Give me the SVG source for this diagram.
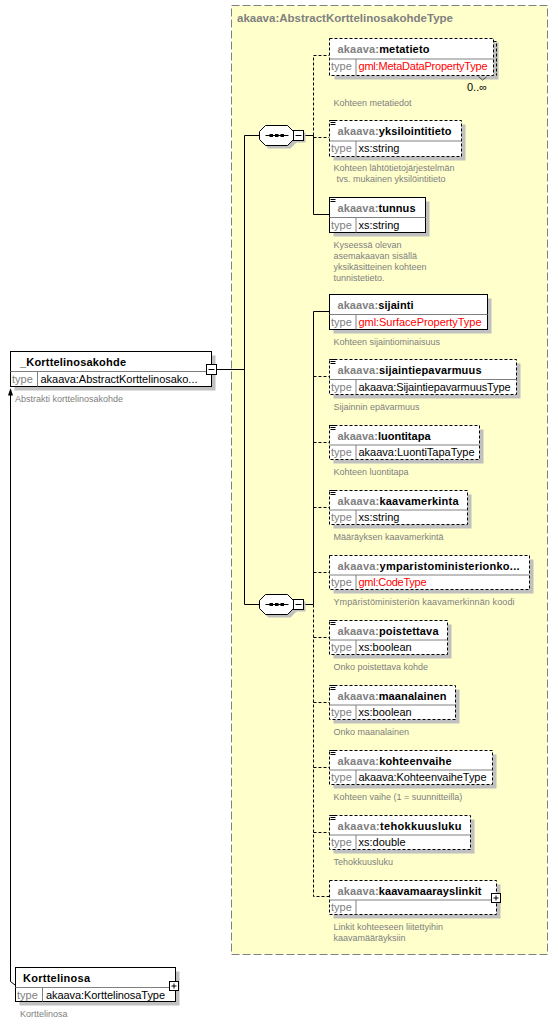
<svg xmlns="http://www.w3.org/2000/svg" width="558" height="1025" viewBox="0 0 558 1025">
<style>
.grp{fill:#FFFFCC;stroke:#808080;stroke-dasharray:8 3}
.ttl{font:bold 11.5px "Liberation Sans",Arial,sans-serif;fill:#808080}
.sh{fill:#C0C0C0}
.bx{fill:#fff;stroke:#000}
.dsh{stroke-dasharray:3 2}
.dv{stroke:#808080}
.nm{font:bold 11px "Liberation Sans",Arial,sans-serif;fill:#000}
.ns{fill:#808080}
.tl{font:11px "Liberation Sans",Arial,sans-serif;fill:#808080}
.ty{font:11px "Liberation Sans",Arial,sans-serif;fill:#000}
.red{fill:#FF0000}
.ds{font:9px "Liberation Sans",Arial,sans-serif;fill:#808080}
.ln{stroke:#000;fill:none}
.dl{stroke-dasharray:3 2}
.ic{stroke:#000;fill:none}
</style>
<defs>
<g id="minus"><rect x="0" y="0" width="10" height="10" fill="#fff" stroke="#000"/><path d="M2 5h6" stroke="#000"/></g>
<g id="plus"><rect x="0" y="0" width="9" height="9" fill="#fff" stroke="#000"/><path d="M2 4.5h5M4.5 2v5" stroke="#000"/></g>
<path id="icon" d="M0 0h6M1 2h5M1 4h5" class="ic"/>
<g id="seq">
<polygon points="9,3 31,3 37,9 37,17 31,23 9,23 3,17 3,9" class="sh"/>
<polygon points="6,0 28,0 34,6 34,14 28,20 6,20 0,14 0,6" fill="#fff" stroke="#000"/>
<path d="M6 10h23" stroke="#000"/>
<rect x="10" y="8.5" width="3.5" height="3" fill="#000"/>
<rect x="15.5" y="8.5" width="3.5" height="3" fill="#000"/>
<rect x="21" y="8.5" width="3.5" height="3" fill="#000"/>
<rect x="36" y="7" width="10" height="10" class="sh"/>
<use href="#minus" x="34" y="5"/>
</g>
</defs>

<g id="group-AbstractKorttelinosakohdeType">
<rect x="231.5" y="5.5" width="316" height="949" class="grp"/>
<text x="237" y="22" class="ttl" textLength="216">akaava:AbstractKorttelinosakohdeType</text>
</g>

<g id="connectors">
<path class="ln" d="M217 369.5H244.5M244.5 135.5V604.5M244.5 135.5H259.5M244.5 604.5H259.5"/>
<path class="ln" d="M303.5 135.5H313.5V214.5H329.5"/>
<path class="ln dl" d="M313.5 135.5V55.5H329.5M313.5 137.5H329.5"/>
<path class="ln" d="M303.5 604.5H313.5V311.5H329.5"/>
<path class="ln dl" d="M313.5 604.5V896.5H329.5M313.5 376.5H329.5M313.5 442.5H329.5M313.5 507.5H329.5M313.5 572.5H329.5M313.5 637.5H329.5M313.5 702.5H329.5M313.5 767.5H329.5M313.5 832.5H329.5"/>
<path class="ln" d="M10.5 395V981.5L15 985"/>
<polygon points="10.5,388 8,395.5 13,395.5" fill="#000"/>
</g>

<g id="seq1" transform="translate(259.5,125.5)"><use href="#seq"/></g>
<g id="seq2" transform="translate(259.5,594.5)"><use href="#seq"/></g>

<g id="Korttelinosakohde" transform="translate(10.5,351.5)">
<rect x="4" y="4" width="201" height="35" class="sh"/>
<rect x="0" y="0" width="201" height="35" class="bx"/>
<path d="M0 20H201M27 20V35" class="dv"/>
<text x="9.5" y="14" class="nm" textLength="106">_Korttelinosakohde</text>
<text x="1.5" y="31" class="tl">type</text>
<text x="30" y="31" class="ty" textLength="157">akaava:AbstractKorttelinosako...</text>
<text x="4.5" y="50.5" class="ds">Abstrakti korttelinosakohde</text>
<use href="#minus" x="196" y="13"/>
</g>

<g id="Korttelinosa" transform="translate(15.5,967.5)">
<rect x="4" y="4" width="160" height="34" class="sh"/>
<rect x="0" y="0" width="160" height="34" class="bx"/>
<path d="M0 20H160M27 20V34" class="dv"/>
<text x="7.5" y="14" class="nm" textLength="67">Korttelinosa</text>
<text x="1.5" y="31" class="tl">type</text>
<text x="30.5" y="31" class="ty" textLength="119">akaava:KorttelinosaType</text>
<text x="4.5" y="49.5" class="ds">Korttelinosa</text>
<use href="#plus" x="154" y="14"/>
</g>

<g id="metatieto" transform="translate(329.5,38.5)">
<rect x="5" y="4" width="164" height="37" class="sh"/>
<path d="M164 3H167V37" class="ln dl"/>
<rect x="0" y="0" width="164" height="37" class="bx dsh"/>
<path d="M0 20.5H164M26.5 20.5V37" class="dv"/>
<path d="M149 38L153 41.5L157 38.5" stroke="#404040" fill="none"/>
<text x="8" y="14" class="nm" textLength="92"><tspan class="ns">akaava:</tspan>metatieto</text>
<text x="1.5" y="31" class="tl">type</text>
<text x="29" y="31" class="ty red" textLength="129">gml:MetaDataPropertyType</text>
<text x="137.5" y="52.5" class="ty">0..∞</text>
<text x="4" y="67" class="ds">Kohteen metatiedot</text>
</g>

<g id="yksilointitieto" transform="translate(329.5,120.5)">
<rect x="4" y="4" width="132" height="36" class="sh"/>
<rect x="0" y="0" width="132" height="36" class="bx dsh"/>
<path d="M0 20.5H132M26.5 20.5V36" class="dv"/>
<use href="#icon"/>
<text x="8" y="14" class="nm" textLength="114"><tspan class="ns">akaava:</tspan>yksilointitieto</text>
<text x="1.5" y="31" class="tl">type</text>
<text x="29" y="31" class="ty">xs:string</text>
<text x="4" y="50" class="ds">Kohteen lähtötietojärjestelmän</text>
<text x="7" y="61" class="ds">tvs. mukainen yksilöintitieto</text>
</g>

<g id="tunnus" transform="translate(329.5,197.5)">
<rect x="4" y="4" width="96" height="35" class="sh"/>
<rect x="0" y="0" width="96" height="35" class="bx"/>
<path d="M0 20H96M26.5 20V35" class="dv"/>
<use href="#icon"/>
<text x="8" y="14" class="nm" textLength="78"><tspan class="ns">akaava:</tspan>tunnus</text>
<text x="1.5" y="31" class="tl">type</text>
<text x="29" y="31" class="ty">xs:string</text>
<text x="4" y="50" class="ds">Kyseessä olevan</text>
<text x="4" y="61" class="ds">asemakaavan sisällä</text>
<text x="4" y="72" class="ds">yksikäsitteinen kohteen</text>
<text x="4" y="83" class="ds">tunnistetieto.</text>
</g>

<g id="sijainti" transform="translate(329.5,294.5)">
<rect x="4" y="4" width="158" height="35" class="sh"/>
<rect x="0" y="0" width="158" height="35" class="bx"/>
<path d="M0 20H158M26.5 20V35" class="dv"/>
<text x="8" y="14" class="nm" textLength="76"><tspan class="ns">akaava:</tspan>sijainti</text>
<text x="1.5" y="31" class="tl">type</text>
<text x="29" y="31" class="ty red" textLength="123">gml:SurfacePropertyType</text>
<text x="4" y="50.5" class="ds">Kohteen sijaintiominaisuus</text>
</g>

<g id="sijaintiepavarmuus" transform="translate(329.5,359.5)">
<rect x="4" y="4" width="187" height="35" class="sh"/>
<rect x="0" y="0" width="187" height="35" class="bx dsh"/>
<path d="M0 20H187M26.5 20V35" class="dv"/>
<use href="#icon"/>
<text x="8" y="14" class="nm" textLength="144"><tspan class="ns">akaava:</tspan>sijaintiepavarmuus</text>
<text x="1.5" y="31" class="tl">type</text>
<text x="29" y="31" class="ty" textLength="152">akaava:SijaintiepavarmuusType</text>
<text x="4" y="50.5" class="ds">Sijainnin epävarmuus</text>
</g>

<g id="luontitapa" transform="translate(329.5,425.5)">
<rect x="4" y="4" width="150" height="34" class="sh"/>
<rect x="0" y="0" width="150" height="34" class="bx dsh"/>
<path d="M0 19.5H150M26.5 19.5V34" class="dv"/>
<use href="#icon"/>
<text x="8" y="14" class="nm" textLength="93"><tspan class="ns">akaava:</tspan>luontitapa</text>
<text x="1.5" y="30.5" class="tl">type</text>
<text x="29" y="30.5" class="ty" textLength="116">akaava:LuontiTapaType</text>
<text x="4" y="49.5" class="ds">Kohteen luontitapa</text>
</g>

<g id="kaavamerkinta" transform="translate(329.5,490.5)">
<rect x="4" y="4" width="138" height="34" class="sh"/>
<rect x="0" y="0" width="138" height="34" class="bx dsh"/>
<path d="M0 19.5H138M26.5 19.5V34" class="dv"/>
<use href="#icon"/>
<text x="8" y="14" class="nm" textLength="121"><tspan class="ns">akaava:</tspan>kaavamerkinta</text>
<text x="1.5" y="30.5" class="tl">type</text>
<text x="29" y="30.5" class="ty">xs:string</text>
<text x="4" y="49.5" class="ds">Määräyksen kaavamerkintä</text>
</g>

<g id="ymparistoministerionkoodi" transform="translate(329.5,555.5)">
<rect x="4" y="4" width="200" height="34" class="sh"/>
<rect x="0" y="0" width="200" height="34" class="bx dsh"/>
<path d="M0 19.5H200M26.5 19.5V34" class="dv"/>
<text x="8" y="14" class="nm" textLength="182"><tspan class="ns">akaava:</tspan>ymparistoministerionko...</text>
<text x="1.5" y="30.5" class="tl">type</text>
<text x="29" y="30.5" class="ty red" textLength="68">gml:CodeType</text>
<text x="4" y="49.5" class="ds" textLength="181">Ympäristöministeriön kaavamerkinnän koodi</text>
</g>

<g id="poistettava" transform="translate(329.5,620.5)">
<rect x="4" y="4" width="118" height="34" class="sh"/>
<rect x="0" y="0" width="118" height="34" class="bx dsh"/>
<path d="M0 19.5H118M26.5 19.5V34" class="dv"/>
<use href="#icon"/>
<text x="8" y="14" class="nm" textLength="101"><tspan class="ns">akaava:</tspan>poistettava</text>
<text x="1.5" y="30.5" class="tl">type</text>
<text x="29" y="30.5" class="ty">xs:boolean</text>
<text x="4" y="49.5" class="ds">Onko poistettava kohde</text>
</g>

<g id="maanalainen" transform="translate(329.5,685.5)">
<rect x="4" y="4" width="126" height="34" class="sh"/>
<rect x="0" y="0" width="126" height="34" class="bx dsh"/>
<path d="M0 19.5H126M26.5 19.5V34" class="dv"/>
<use href="#icon"/>
<text x="8" y="14" class="nm" textLength="109"><tspan class="ns">akaava:</tspan>maanalainen</text>
<text x="1.5" y="30.5" class="tl">type</text>
<text x="29" y="30.5" class="ty">xs:boolean</text>
<text x="4" y="49.5" class="ds">Onko maanalainen</text>
</g>

<g id="kohteenvaihe" transform="translate(329.5,750.5)">
<rect x="4" y="4" width="163" height="34" class="sh"/>
<rect x="0" y="0" width="163" height="34" class="bx dsh"/>
<path d="M0 19.5H163M26.5 19.5V34" class="dv"/>
<use href="#icon"/>
<text x="8" y="14" class="nm" textLength="114"><tspan class="ns">akaava:</tspan>kohteenvaihe</text>
<text x="1.5" y="30.5" class="tl">type</text>
<text x="29" y="30.5" class="ty" textLength="128">akaava:KohteenvaiheType</text>
<text x="4" y="49" class="ds">Kohteen vaihe (1 = suunnitteilla)</text>
</g>

<g id="tehokkuusluku" transform="translate(329.5,815.5)">
<rect x="4" y="4" width="141" height="34" class="sh"/>
<rect x="0" y="0" width="141" height="34" class="bx dsh"/>
<path d="M0 19.5H141M26.5 19.5V34" class="dv"/>
<use href="#icon"/>
<text x="8" y="14" class="nm" textLength="124"><tspan class="ns">akaava:</tspan>tehokkuusluku</text>
<text x="1.5" y="30.5" class="tl">type</text>
<text x="29" y="30.5" class="ty">xs:double</text>
<text x="4" y="49.5" class="ds">Tehokkuusluku</text>
</g>

<g id="kaavamaarayslinkit" transform="translate(329.5,880.5)">
<rect x="4" y="4" width="167" height="34" class="sh"/>
<rect x="0" y="0" width="167" height="34" class="bx dsh"/>
<path d="M0 19.5H167M26.5 19.5V34" class="dv"/>
<text x="8" y="14" class="nm" textLength="144"><tspan class="ns">akaava:</tspan>kaavamaarayslinkit</text>
<text x="1.5" y="30.5" class="tl">type</text>
<text x="4" y="49.5" class="ds">Linkit kohteeseen liitettyihin</text>
<text x="4" y="60" class="ds">kaavamääräyksiin</text>
<use href="#plus" x="162" y="13"/>
</g>
</svg>
